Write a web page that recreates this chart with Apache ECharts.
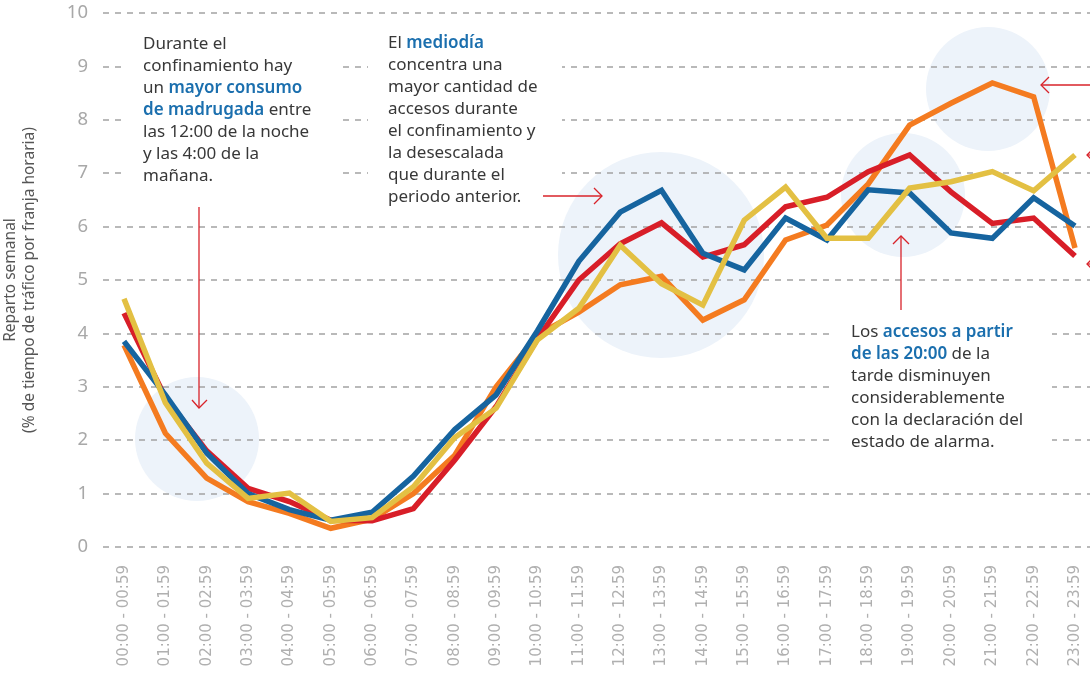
<!DOCTYPE html>
<html>
<head>
<meta charset="utf-8">
<script src="https://cdn.jsdelivr.net/npm/echarts@6/dist/echarts.min.js"></script>
<style>html,body{margin:0;padding:0;background:#fff}#c{width:1090px;height:687px}</style>
</head>
<body>
<div id="c"></div>
<script>
var hours = ['00:00 - 00:59','01:00 - 01:59','02:00 - 02:59','03:00 - 03:59','04:00 - 04:59','05:00 - 05:59','06:00 - 06:59','07:00 - 07:59','08:00 - 08:59','09:00 - 09:59','10:00 - 10:59','11:00 - 11:59','12:00 - 12:59','13:00 - 13:59','14:00 - 14:59','15:00 - 15:59','16:00 - 16:59','17:00 - 17:59','18:00 - 18:59','19:00 - 19:59','20:00 - 20:59','21:00 - 21:59','22:00 - 22:59','23:00 - 23:59'];
var yTicks = [0,1,2,3,4,5,6,7,8,9,10];
var serieAzul = [3.85,2.85,1.76,1.0,0.70,0.50,0.65,1.33,2.2,2.85,4.05,5.35,6.27,6.68,5.5,5.19,6.16,5.75,6.69,6.63,5.88,5.78,6.54,6.01];
var serieRoja = [4.38,2.8,1.8,1.1,0.85,0.5,0.49,0.72,1.63,2.63,3.9,5.0,5.68,6.07,5.43,5.66,6.37,6.55,7.03,7.34,6.65,6.06,6.16,5.45];
var serieNaranja = [3.78,2.13,1.29,0.85,0.63,0.35,0.52,1.0,1.72,3.0,3.97,4.4,4.91,5.07,4.25,4.63,5.75,6.03,6.8,7.9,8.31,8.69,8.43,5.6];
var serieAmarilla = [4.65,2.7,1.57,0.91,1.01,0.48,0.55,1.13,2.05,2.6,3.88,4.47,5.65,4.93,4.53,6.12,6.74,5.78,5.78,6.72,6.84,7.03,6.67,7.34];

var FONT = '"Noto Sans", sans-serif';
var chart = echarts.init(document.getElementById('c'));

function mkLine(name, data, color) {
  return {
    name: name, type: 'line', xAxisIndex: 1, yAxisIndex: 1, data: data,
    symbol: 'none', z: 5,
    lineStyle: { color: color, width: 5.5, join: 'miter' },
    emphasis: { disabled: true }
  };
}
function circle(cx, cy, r) {
  return { type: 'circle', z: 0, silent: true, shape: { cx: cx, cy: cy, r: r }, style: { fill: '#edf3fa' } };
}
function box(x, y, w, h) {
  return { type: 'rect', z: 2, silent: true, shape: { x: x, y: y, width: w, height: h }, style: { fill: '#fff' } };
}
function seg(pts) {
  return { type: 'polyline', z: 3, silent: true, shape: { points: pts }, style: { stroke: '#d8232a', lineWidth: 1.3, fill: null } };
}
var rich = { b: { fill: '#1b6fae', fontWeight: 600, fontSize: 17, fontFamily: FONT, lineHeight: 22 } };
function txt(x, y, s) {
  return { type: 'text', z: 3, silent: true, left: x, top: y,
    style: { text: s, fill: '#383838', fontSize: 17, fontFamily: FONT, lineHeight: 22, rich: rich } };
}

chart.setOption({
  animation: false,
  backgroundColor: '#fff',
  grid: [
    { left: 103, right: 0, top: 13, bottom: 140, containLabel: false, outerBoundsMode: 'none' },
    { left: 124, right: 15, top: 13, bottom: 140, containLabel: false, outerBoundsMode: 'none' }
  ],
  xAxis: [
    { gridIndex: 0, type: 'value', min: 0, max: 1, show: false },
    { gridIndex: 1, type: 'category', data: hours, boundaryGap: false,
      axisLine: { show: false }, axisTick: { show: false }, splitLine: { show: false },
      axisLabel: { rotate: 90, interval: 0, margin: 18, color: '#b0b0b0', fontSize: 15, fontFamily: '"DejaVu Sans", sans-serif' } }
  ],
  yAxis: [
    { gridIndex: 0, type: 'value', min: 0, max: 10, interval: 1, z: 1,
      axisLine: { show: false }, axisTick: { show: false },
      axisLabel: { margin: 15, color: '#a8a8a8', fontSize: 18.5, fontFamily: FONT },
      splitLine: { show: true, lineStyle: { color: '#a3a3a3', width: 1.5, type: [6, 6] } },
      name: 'Reparto semanal\n(% de tiempo de tráfico por franja horaria)',
      nameLocation: 'middle', nameGap: 64,
      nameTextStyle: { color: '#555', fontSize: 15.5, lineHeight: 19, fontFamily: FONT } },
    { gridIndex: 1, type: 'value', min: 0, max: 10, interval: 1, show: false, splitLine: { show: false } }
  ],
  series: [
    mkLine('Naranja', serieNaranja, '#f47b20'),
    mkLine('Roja', serieRoja, '#d81e28'),
    mkLine('Azul', serieAzul, '#16649f'),
    mkLine('Amarilla', serieAmarilla, '#e3c043')
  ],
  graphic: [
    circle(197, 439, 62),
    circle(661, 255, 103),
    circle(903, 195, 62),
    circle(988, 89, 62),
    box(127, 28, 210, 164),
    box(368, 28, 194, 184),
    box(833, 312, 219, 150),
    seg([[199, 207], [199, 408]]),
    seg([[192, 400], [199, 408], [207, 400]]),
    seg([[543, 196], [602, 196]]),
    seg([[594, 188], [602, 196], [594, 204]]),
    seg([[901, 310], [901, 236]]),
    seg([[893, 244], [901, 236], [909, 244]]),
    seg([[1095, 85], [1041, 85]]),
    seg([[1049, 77], [1041, 85], [1049, 93]]),
    seg([[1100, 155], [1087, 155]]),
    seg([[1095, 147], [1087, 155], [1095, 163]]),
    seg([[1100, 264], [1087, 264]]),
    seg([[1095, 256], [1087, 264], [1095, 272]]),
    txt(143, 33, 'Durante el\nconfinamiento hay\nun {b|mayor consumo}\n{b|de madrugada} entre\nlas 12:00 de la noche\ny las 4:00 de la\nmañana.'),
    txt(388, 32, 'El {b|mediodía}\nconcentra una\nmayor cantidad de\naccesos durante\nel confinamiento y\nla desescalada\nque durante el\nperiodo anterior.'),
    txt(851, 321, 'Los {b|accesos a partir}\n{b|de las 20:00} de la\ntarde disminuyen\nconsiderablemente\ncon la declaración del\nestado de alarma.')
  ]
});
</script>
</body>
</html>
